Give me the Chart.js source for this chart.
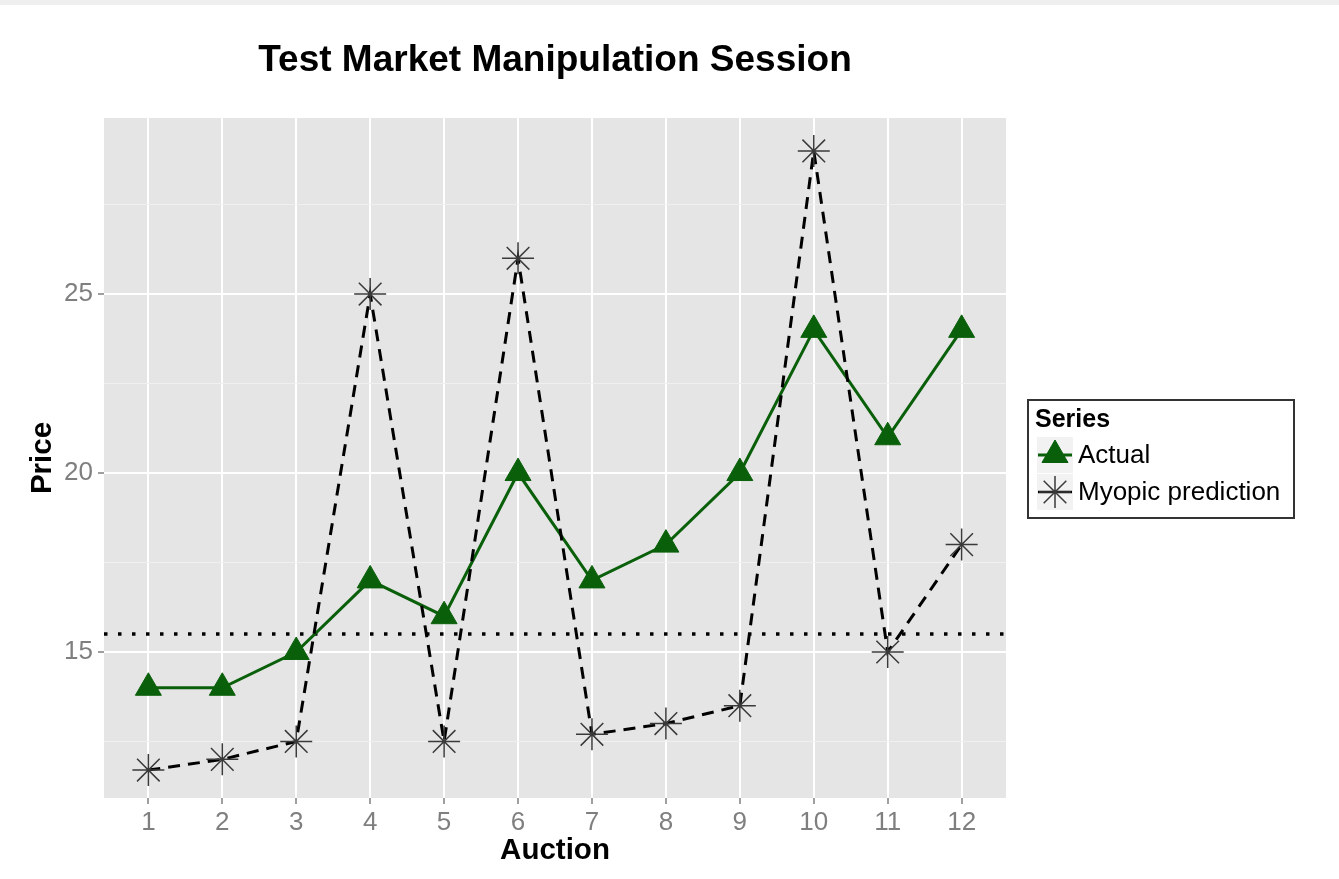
<!DOCTYPE html>
<html><head><meta charset="utf-8">
<script src="https://cdn.jsdelivr.net/npm/chart.js@4.4.1/dist/chart.umd.min.js"></script>
<style>
html,body{margin:0;padding:0;background:#fff;}
#wrap{position:absolute;left:0;top:0;width:1339px;height:879px;}
#strip{position:absolute;left:0;top:0;width:1339px;height:5px;background:#efefef;z-index:2}
</style></head><body>
<div id="wrap"><canvas id="c" width="1339" height="879"></canvas></div>
<div id="strip"></div>
<script>
const auctions = [1,2,3,4,5,6,7,8,9,10,11,12];
const actual = [14,14,15,17,16,20,17,18,20,24,21,24];
const myopic = [11.7,12,12.5,25,12.5,26,12.7,13,13.5,29,15,18];
const threshold = 15.5;
const yMajorTicks = [15,20,25];
const yMinorTicks = [12.5,17.5,22.5,27.5];
const seriesNames = ['Actual','Myopic prediction'];
const legendTitle = 'Series';
const chartTitle = 'Test Market Manipulation Session';
const xTitle = 'Auction';
const yTitle = 'Price';

const FONT = "'Liberation Sans', Arial, sans-serif";
const GREEN = '#0a600a';
const STAR = '#3a3a3a';
const TICKCOL = '#7f7f7f';

const bgPlugin = {
  id: 'bg',
  beforeDraw(chart) {
    const {ctx, chartArea: a} = chart;
    ctx.save();
    ctx.fillStyle = '#ffffff';
    ctx.fillRect(0, 0, chart.width, chart.height);
    ctx.fillStyle = '#e5e5e5';
    ctx.fillRect(a.left, a.top, a.right - a.left, a.bottom - a.top);
    ctx.restore();
  }
};

const hlinePlugin = {
  id: 'hline',
  beforeDatasetsDraw(chart) {
    const {ctx, chartArea: a, scales} = chart;
    const y = scales.y.getPixelForValue(threshold);
    ctx.save();
    ctx.strokeStyle = '#000';
    ctx.lineWidth = 3.5;
    ctx.setLineDash([3.5, 10.5]);
    ctx.beginPath();
    ctx.moveTo(a.left, y);
    ctx.lineTo(a.right, y);
    ctx.stroke();
    ctx.restore();
  }
};

const decoPlugin = {
  id: 'deco',
  afterDraw(chart) {
    const {ctx, chartArea: a} = chart;
    ctx.save();
    // title
    ctx.fillStyle = '#000';
    ctx.font = 'bold 37px ' + FONT;
    ctx.textAlign = 'center';
    ctx.textBaseline = 'middle';
    ctx.fillText(chartTitle, (a.left + a.right) / 2, 61);
    // legend box
    const bx = 1028, by = 400, bw = 266, bh = 118;
    ctx.fillStyle = '#fff';
    ctx.fillRect(bx, by, bw, bh);
    ctx.strokeStyle = '#333';
    ctx.lineWidth = 2;
    ctx.strokeRect(bx, by, bw, bh);
    ctx.fillStyle = '#000';
    ctx.textAlign = 'left';
    ctx.font = 'bold 25px ' + FONT;
    ctx.fillText(legendTitle, 1035, 420);
    ctx.font = '26px ' + FONT;
    const rows = [455, 492];
    rows.forEach((cy, i) => {
      ctx.fillStyle = '#f2f2f2';
      ctx.fillRect(1037, cy - 18, 36, 36);
      ctx.beginPath();
      ctx.moveTo(1038, cy);
      ctx.lineTo(1072, cy);
      if (i === 0) {
        ctx.strokeStyle = GREEN; ctx.lineWidth = 3;
        ctx.stroke();
        ctx.fillStyle = GREEN; ctx.strokeStyle = GREEN; ctx.lineWidth = 1;
        Chart.helpers.drawPoint(ctx, {pointStyle: 'triangle', radius: 15, rotation: 0, borderWidth: 1}, 1055, cy);
      } else {
        ctx.strokeStyle = '#000'; ctx.lineWidth = 2.5;
        ctx.stroke();
        ctx.strokeStyle = STAR; ctx.lineWidth = 1.5;
        Chart.helpers.drawPoint(ctx, {pointStyle: 'star', radius: 16, rotation: 0, borderWidth: 1.5}, 1055, cy);
      }
      ctx.fillStyle = '#000';
      ctx.fillText(seriesNames[i], 1078, cy + 1);
    });
    ctx.restore();
  }
};

const isMajorY = v => yMajorTicks.includes(v);

new Chart(document.getElementById('c'), {
  type: 'line',
  data: {
    datasets: [
      {
        label: seriesNames[1],
        data: auctions.map((a, i) => ({x: a, y: myopic[i]})),
        borderColor: '#000',
        borderWidth: 3,
        borderDash: [12, 8],
        pointStyle: 'star',
        pointRadius: 16,
        pointBorderColor: STAR,
        pointBorderWidth: 1.5,
        pointBackgroundColor: STAR,
        tension: 0,
        order: 0
      },
      {
        label: seriesNames[0],
        data: auctions.map((a, i) => ({x: a, y: actual[i]})),
        borderColor: GREEN,
        borderWidth: 3,
        pointStyle: 'triangle',
        pointRadius: 15,
        pointBorderColor: GREEN,
        pointBackgroundColor: GREEN,
        pointBorderWidth: 1,
        tension: 0,
        order: 1
      }
    ]
  },
  options: {
    responsive: false,
    animation: false,
    devicePixelRatio: 1,
    events: [],
    layout: {padding: {top: 118, left: 0, right: 333, bottom: 0}},
    plugins: {legend: {display: false}, title: {display: false}, tooltip: {enabled: false}},
    scales: {
      x: {
        type: 'linear',
        min: 0.4, max: 12.6,
        afterBuildTicks: s => { s.ticks = auctions.map(v => ({value: v})); },
        afterFit: s => { s.height = 81; },
        border: {display: false},
        grid: {color: '#ffffff', lineWidth: 2, tickColor: TICKCOL, tickLength: 6, tickWidth: 1.5},
        ticks: {color: TICKCOL, font: {size: 26, family: FONT}, padding: 3, maxRotation: 0, autoSkip: false, callback: v => String(v)},
        title: {display: true, text: xTitle, color: '#000', font: {size: 29.5, weight: 'bold', family: FONT}, padding: {top: 0, bottom: 10}}
      },
      y: {
        type: 'linear',
        min: 10.92, max: 29.92,
        afterBuildTicks: s => { s.ticks = yMinorTicks.concat(yMajorTicks).sort((p, q) => p - q).map(v => ({value: v})); },
        afterFit: s => { s.width = 104; },
        border: {display: false},
        grid: {
          color: c => isMajorY(c.tick.value) ? '#ffffff' : '#f0f0f0',
          lineWidth: c => isMajorY(c.tick.value) ? 2 : 1,
          tickColor: c => isMajorY(c.tick.value) ? TICKCOL : 'rgba(0,0,0,0)',
          tickLength: 6, tickWidth: 1.5
        },
        ticks: {color: TICKCOL, font: {size: 26, family: FONT}, padding: 5, autoSkip: false, callback: v => isMajorY(v) ? String(v) : ''},
        title: {display: true, text: yTitle, color: '#000', font: {size: 29.5, weight: 'bold', family: FONT}, padding: {top: 25, bottom: 0}}
      }
    }
  },
  plugins: [bgPlugin, hlinePlugin, decoPlugin]
});
</script>
</body></html>
